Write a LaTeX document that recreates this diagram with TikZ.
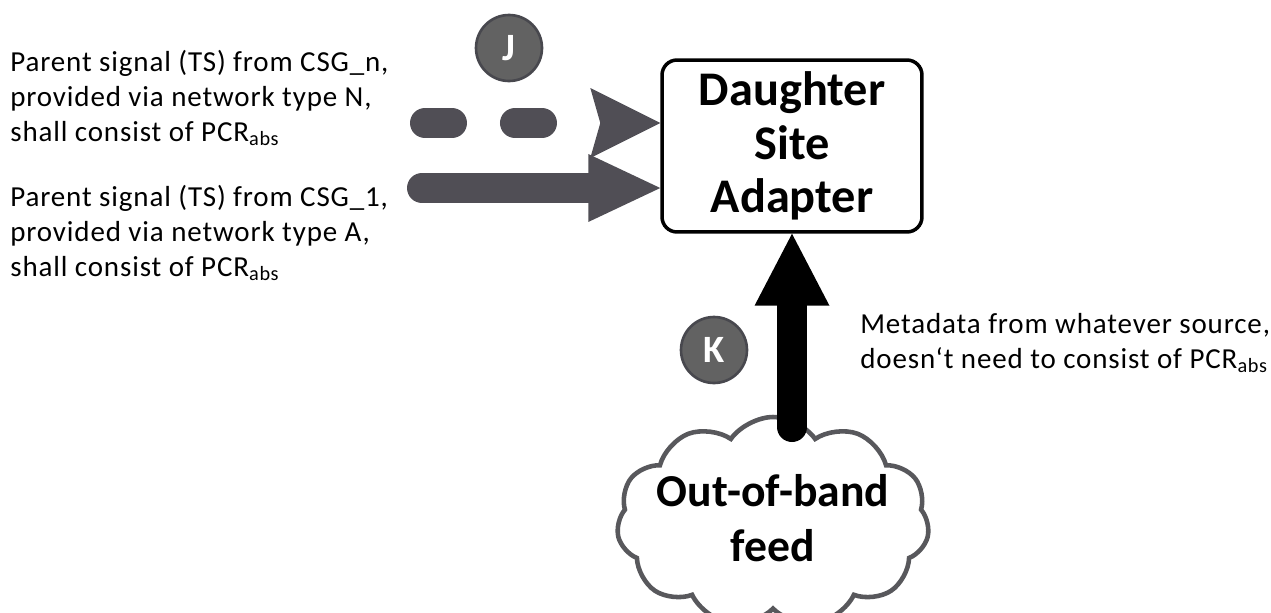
\documentclass[tikz,border=0pt]{standalone}
\usepackage{fontspec}
\setmainfont{Carlito}
\usepackage{tikz}
\usetikzlibrary{positioning, arrows.meta, shapes.symbols}

\definecolor{feedgray}{RGB}{80,78,85}
\definecolor{badgegray}{RGB}{98,98,98}
\definecolor{badgeedge}{RGB}{72,72,78}
\definecolor{cloudgray}{RGB}{88,88,92}

\begin{document}
\begin{tikzpicture}[x=0.02cm, y=-0.02cm,
    signal/.style={line width=0.6cm, draw=feedgray, line cap=round},
    badge/.style={circle, fill=badgegray, draw=badgeedge, line width=1.5pt, minimum size=1.32cm, inner sep=0pt, text=white, font=\bfseries\fontsize{22}{24}\selectfont},
    note/.style={anchor=west, align=left, inner sep=0pt, font=\fontsize{16.5}{20}\selectfont\addfontfeatures{LetterSpace=3}},
    bigtext/.style={font=\bfseries\fontsize{27.5}{30.5}\selectfont, align=center}]
    \useasboundingbox (0,0) rectangle (1271,612);

    % Adapter box and out-of-band cloud
    \node[draw, line width=2pt, rounded corners=0.3cm, minimum width=5.2cm, minimum height=3.44cm, bigtext] (dsa) at (792,146) {Daughter\\Site\\Adapter};
    \node[cloud, cloud puffs=11, cloud puff arc=110, aspect=1.5, draw=cloudgray, line width=2.6pt, fill=white, minimum width=6.25cm, minimum height=4.2cm, inner sep=0pt,
          label={[font=\bfseries\fontsize{26}{31}\selectfont, align=center, yshift=0.08cm]center:Out-of-band\\feed}] (feed) at (773,522) {};

    % Labels
    \node[note] (txtN) at (10,98) {Parent signal (TS) from CSG\_n,\\provided via network type N,\\shall consist of PCR\textsubscript{abs}};
    \node[note] (txt1) at (10,233) {Parent signal (TS) from CSG\_1,\\provided via network type A,\\shall consist of PCR\textsubscript{abs}};
    \node[note] (txtMeta) at (860,343) {Metadata from whatever source,\\doesn‘t need to consist of PCR\textsubscript{abs}};
    \node[badge] (badgeJ) at (509,48) {J};
    \node[badge] (badgeK) at (714,350) {K};

    % Arrows into the adapter
    \coordinate (startN) at (425,123);
    \coordinate (start1) at (422,188);
    \coordinate (feedtop) at (792,427);
    \draw[signal, dash pattern=on 0.54cm off 1.26cm, -{Stealth[length=1.4cm, width=1.4cm, inset=0.2cm, line width=0pt, fill=feedgray]}] (startN) -- (dsa.west |- startN);
    \draw[signal, -{Triangle[length=1.44cm, width=1.36cm, line width=0pt, fill=feedgray]}] (start1) -- (dsa.west |- start1);
    \draw[signal, draw=black, -{Triangle[length=1.44cm, width=1.5cm, line width=0pt, fill=black]}] (feedtop) -- (dsa.south);

\end{tikzpicture}
\end{document}
